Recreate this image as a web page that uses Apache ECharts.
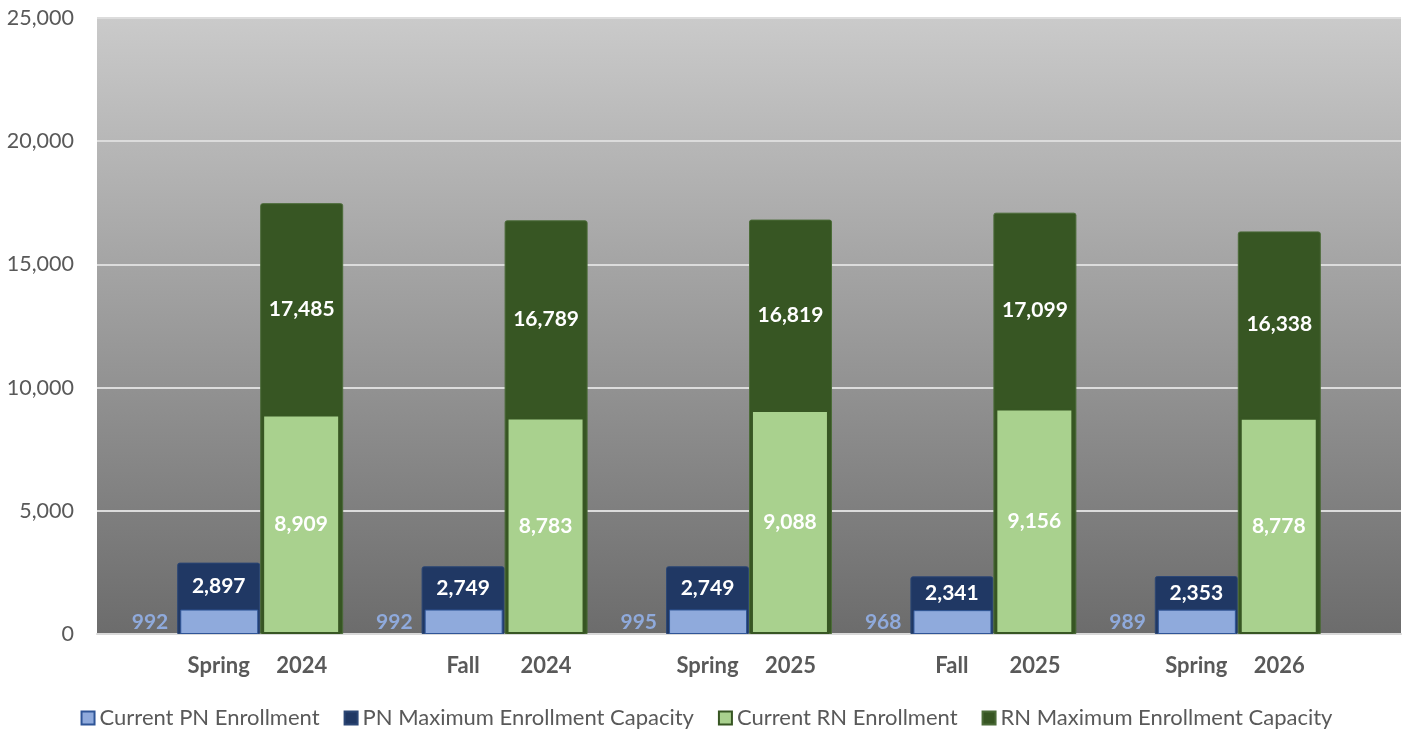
<!DOCTYPE html>
<html>
<head>
<meta charset="utf-8">
<script src="https://cdn.jsdelivr.net/npm/echarts/dist/echarts.min.js"></script>
<style>
  html, body { margin: 0; padding: 0; background: #fff; }
  #chart { width: 1413px; height: 740px; }
</style>
</head>
<body>
<div id="chart"></div>
<script>
'use strict';

var seasons = ['Spring', 'Fall', 'Spring', 'Fall', 'Spring'];
var years = ['2024', '2024', '2025', '2025', '2026'];
var pnCurrent = [992, 992, 995, 968, 989];
var pnMax = [2897, 2749, 2749, 2341, 2353];
var rnCurrent = [8909, 8783, 9088, 9156, 8778];
var rnMax = [17485, 16789, 16819, 17099, 16338];
var yTicks = [0, 5000, 10000, 15000, 20000, 25000];

var categories = seasons.map(function (s, i) { return s + ' ' + years[i]; });
var fmt = function (v) { return Number(v).toLocaleString('en-US'); };
var font = 'Lato, "Noto Sans", sans-serif';

// max bar label sits in the middle of the part not covered by the current bar
var maxData = function (maxArr, curArr) {
    return maxArr.map(function (v, i) {
        var pct = (v - curArr[i]) / 2 / v * 100;
        return { value: v, label: { position: ['50%', pct + '%'] } };
    });
};

var chart = echarts.init(document.getElementById('chart'));

var option = {
    animation: false,
    textStyle: { fontFamily: font },
    grid: [
        {
            left: 97, right: 12, top: 18, bottom: 106,
            show: true, borderWidth: 0,
            backgroundColor: new echarts.graphic.LinearGradient(0, 0, 0, 1, [
                { offset: 0, color: '#cacaca' },
                { offset: 1, color: '#6c6c6c' }
            ])
        },
        { left: 138, right: 53, top: 18, bottom: 106 }
    ],
    xAxis: [
        {
            gridIndex: 0, type: 'value', min: 0, max: 1,
            axisLine: { show: true, onZero: false, lineStyle: { color: '#d9d9d9', width: 2 } },
            axisTick: { show: false }, axisLabel: { show: false }, splitLine: { show: false }
        },
        {
            gridIndex: 1, type: 'category', data: categories,
            axisLine: { show: false }, axisTick: { show: false },
            axisLabel: {
                margin: 21,
                formatter: function (v) {
                    var p = v.split(' ');
                    return '{s|' + p[0] + '}{y|' + p[1] + '}';
                },
                rich: {
                    s: { width: 83, align: 'center', fontSize: 22, fontWeight: 'bold', color: '#595959', fontFamily: font },
                    y: { width: 83, align: 'center', fontSize: 22, fontWeight: 'bold', color: '#595959', fontFamily: font }
                }
            }
        },
        {
            gridIndex: 1, type: 'category', data: categories, show: false
        }
    ],
    yAxis: [
        {
            gridIndex: 0, type: 'value', min: yTicks[0], max: yTicks[yTicks.length - 1], interval: 5000,
            axisLine: { show: false }, axisTick: { show: false },
            axisLabel: { margin: 23, fontSize: 21.5, color: '#595959', formatter: fmt },
            splitLine: { show: true, lineStyle: { color: '#dcdcdc', width: 2 } }
        },
        {
            gridIndex: 1, type: 'value', min: 0, max: 25000, interval: 5000, show: false,
            splitLine: { show: false }
        }
    ],
    legend: {
        bottom: 6,
        left: 'center',
        icon: 'rect',
        itemWidth: 13,
        itemHeight: 13,
        itemGap: 24,
        textStyle: { fontSize: 22, color: '#595959', fontFamily: font },
        data: ['Current PN Enrollment', 'PN Maximum Enrollment Capacity', 'Current RN Enrollment', 'RN Maximum Enrollment Capacity']
    },
    series: [
        {
            name: 'PN Maximum Enrollment Capacity', type: 'bar',
            xAxisIndex: 1, yAxisIndex: 1,
            barWidth: 83, barGap: '0%',
            data: maxData(pnMax, pnCurrent),
            itemStyle: { color: '#203864', borderColor: '#2c4775', borderWidth: 1, borderRadius: [2, 2, 0, 0] },
            label: {
                show: true, align: 'center', verticalAlign: 'middle',
                color: '#fff', fontSize: 21, fontWeight: 'bold', formatter: function (p) { return fmt(p.value); }
            },
            z: 2
        },
        {
            name: 'RN Maximum Enrollment Capacity', type: 'bar',
            xAxisIndex: 1, yAxisIndex: 1,
            barWidth: 83, barGap: '0%',
            data: maxData(rnMax, rnCurrent),
            itemStyle: { color: '#375623', borderColor: '#4b6b38', borderWidth: 1, borderRadius: [2, 2, 0, 0] },
            label: {
                show: true, align: 'center', verticalAlign: 'middle',
                color: '#fff', fontSize: 21, fontWeight: 'bold', formatter: function (p) { return fmt(p.value); }
            },
            z: 2
        },
        {
            name: 'Current PN Enrollment', type: 'bar',
            xAxisIndex: 2, yAxisIndex: 1,
            barWidth: 78, barGap: '5%',
            data: pnCurrent,
            itemStyle: { color: '#8faadc', borderColor: '#2f5597', borderWidth: 1 },
            label: {
                show: true, position: 'left', distance: 12,
                color: '#8faadc', fontSize: 21, fontWeight: 'bold', formatter: function (p) { return fmt(p.value); }
            },
            z: 3
        },
        {
            name: 'Current RN Enrollment', type: 'bar',
            xAxisIndex: 2, yAxisIndex: 1,
            barWidth: 78, barGap: '5%',
            data: rnCurrent,
            itemStyle: { color: '#a9d18e', borderColor: '#375623', borderWidth: 2 },
            label: {
                show: true, position: 'inside',
                color: '#fff', fontSize: 21, fontWeight: 'bold', formatter: function (p) { return fmt(p.value); }
            },
            z: 3
        }
    ]
};

chart.setOption(option);
</script>
</body>
</html>
